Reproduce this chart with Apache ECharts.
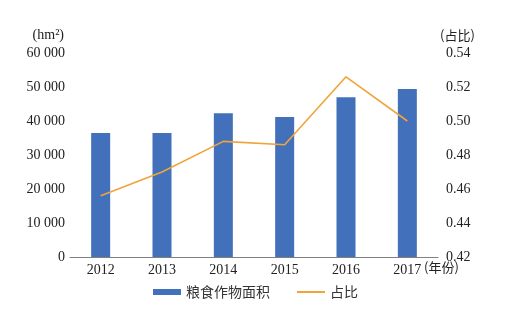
<!DOCTYPE html>
<html><head><meta charset="utf-8">
<script src="https://cdn.jsdelivr.net/npm/echarts@6/dist/echarts.min.js"></script>
<style>html,body{margin:0;padding:0;background:#fff}#c{width:512px;height:310px}</style>
</head><body><div id="c"></div>
<script>
var categories = ['2012','2013','2014','2015','2016','2017'];
var areaValues = [36500, 36500, 42300, 41200, 47000, 49400];
var ratioValues = [0.456, 0.470, 0.488, 0.486, 0.526, 0.500];
var leftTicks = [0, 10000, 20000, 30000, 40000, 50000, 60000];
var rightTicks = [0.42, 0.44, 0.46, 0.48, 0.50, 0.52, 0.54];

var serif = '"Liberation Serif","DejaVu Serif",serif';
var cjk = '"Noto Sans CJK SC",sans-serif';
var chart = echarts.init(document.getElementById('c'));
function fmtThousand(v){ var s=String(v); return s.length>3 ? s.slice(0,s.length-3)+' '+s.slice(-3) : s; }
chart.setOption({
  animation:false,
  grid:{left:70,right:74,top:53,bottom:53},
  legend:{top:285,left:148,itemGap:26,itemWidth:28,itemHeight:6,itemTextGap:6,padding:[0,5],
    textStyle:{fontFamily:cjk,fontSize:14,color:'#333'},
    data:[{name:'粮食作物面积',icon:'rect'},{name:'占比',itemStyle:{opacity:0}}]},
  xAxis:{type:'category',data:categories,
    axisLine:{lineStyle:{color:'#808080',width:1}},axisTick:{show:false},
    axisLabel:{fontFamily:serif,fontSize:14,color:'#222',margin:6}},
  yAxis:[
    {type:'value',min:0,max:60000,interval:10000,
     name:'(hm²)',nameLocation:'end',nameGap:11,
     nameTextStyle:{fontFamily:serif,fontSize:14,color:'#222',align:'right',padding:[0,6,0,0]},
     axisLine:{show:false},axisTick:{show:false},splitLine:{show:false},
     axisLabel:{fontFamily:serif,fontSize:14,color:'#222',margin:5,formatter:function(v){return fmtThousand(v);}}},
    {type:'value',min:0.42,max:0.54,interval:0.02,
     name:'(占比)',nameLocation:'end',nameGap:11,
     nameTextStyle:{fontFamily:cjk,fontSize:13,color:'#222',align:'left',padding:[0,0,0,2]},
     axisLine:{show:false},axisTick:{show:false},splitLine:{show:false},
     axisLabel:{fontFamily:serif,fontSize:14,color:'#222',margin:8,formatter:function(v){return v.toFixed(2);}}}
  ],
  graphic:[{type:'text',left:424,top:261,style:{text:'(年份)',font:'13px "Noto Sans CJK SC"',fill:'#222'}}],
  series:[
    {name:'粮食作物面积',type:'bar',data:areaValues,barWidth:19,itemStyle:{color:'#4270ba'}},
    {name:'占比',type:'line',yAxisIndex:1,data:ratioValues,symbol:'none',
     lineStyle:{color:'#f0a43a',width:1.6},itemStyle:{color:'#f0a43a'}}
  ]
});
</script></body></html>
